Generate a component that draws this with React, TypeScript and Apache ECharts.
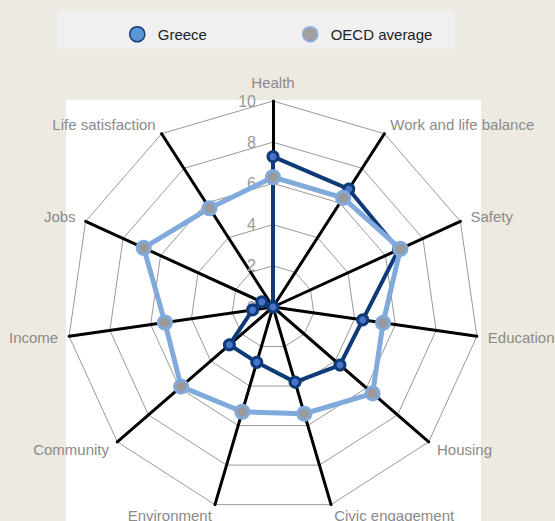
import React, { useEffect, useRef } from "react";
import * as echarts from "echarts";

// Indicators listed clockwise from the top, as they appear on the chart
const indicatorNames = [
  "Health",
  "Work and life balance",
  "Safety",
  "Education",
  "Housing",
  "Civic engagement",
  "Environment",
  "Community",
  "Income",
  "Jobs",
  "Life satisfaction",
];
const greeceValues = [7.3, 6.8, 6.7, 4.4, 4.3, 3.8, 2.8, 2.8, 1.0, 0.6, 0.0];
const oecdValues = [6.3, 6.3, 6.8, 5.4, 6.4, 5.4, 5.3, 5.9, 5.3, 6.9, 5.7];
const tickLabels = ["0", "2", "4", "6", "8", "10"];
const seriesNames = ["Greece", "OECD average"];

// ECharts radar runs counter-clockwise; reorder so the picture reads clockwise
const ccwOrder = [0, ...indicatorNames.map((_, i) => i).slice(1).reverse()];

export default function App() {
  const ref = useRef<HTMLDivElement>(null);
  useEffect(() => {
    document.body.style.margin = "0";
    const chart = echarts.init(ref.current!, null, { renderer: "svg" });
    const font = "'Liberation Sans', Arial, sans-serif";
    const option: any = {
      animation: false,
      backgroundColor: "#EDEBE1",
      graphic: {
        elements: [
          {
            type: "rect",
            z: -10,
            shape: { x: 66, y: 100, width: 415, height: 421 },
            style: { fill: "#FFFFFF" },
          },
          {
            type: "rect",
            z: -10,
            shape: { x: 57, y: 11, width: 398, height: 38 },
            style: { fill: "#F0F0F0" },
          },
        ],
      },
      legend: {
        left: 129,
        top: 26,
        padding: 0,
        itemWidth: 15,
        itemHeight: 15,
        itemGap: 95,
        icon: "circle",
        textStyle: { fontFamily: font, fontSize: 15, color: "#222", padding: [0, 0, 0, 8] },
        data: [
          { name: seriesNames[0], itemStyle: { color: "#5A95D6", borderColor: "#123E78", borderWidth: 1.5 } },
          { name: seriesNames[1], itemStyle: { color: "#A0A0A0", borderColor: "#8DB3E2", borderWidth: 1.5 } },
        ],
      },
      radar: {
        center: [273, 307],
        radius: 206,
        startAngle: 90,
        shape: "polygon",
        splitNumber: 5,
        axisName: { color: "#8A8A8A", fontSize: 15, fontFamily: font },
        nameGap: 11,
        axisLine: { lineStyle: { color: "#000", width: 3 } },
        splitLine: { lineStyle: { color: "#9A9A9A", width: 1 } },
        splitArea: { show: false },
        axisTick: { show: false },
        axisLabel: {
          show: false,
          color: "#999",
          fontSize: 16,
          fontFamily: font,
          margin: 17,
          formatter: (v: number) => tickLabels[Math.round(v / 2)] ?? "",
        },
        indicator: ccwOrder.map((i, k) => {
          const ind: any = { name: indicatorNames[i], min: 0, max: 10 };
          if (k === 0) ind.axisLabel = { show: true };
          return ind;
        }),
      },
      series: [
        {
          type: "radar",
          name: seriesNames[0],
          symbol: "circle",
          symbolSize: 10,
          z: 2,
          lineStyle: { color: "#0E3A78", width: 4 },
          itemStyle: { color: "#4A74C9", borderColor: "#0E3A78", borderWidth: 3 },
          data: [{ name: seriesNames[0], value: ccwOrder.map((i) => greeceValues[i]) }],
        },
        {
          type: "radar",
          name: seriesNames[1],
          symbol: "circle",
          symbolSize: 13,
          z: 3,
          lineStyle: { color: "#80AADC", width: 5 },
          itemStyle: { color: "#9A9A9A", borderColor: "#80AADC", borderWidth: 3 },
          data: [{ name: seriesNames[1], value: ccwOrder.map((i) => oecdValues[i]) }],
        },
      ],
    };
    chart.setOption(option);
    return () => chart.dispose();
  }, []);
  return <div ref={ref} style={{ width: 555, height: 521 }} />;
}
